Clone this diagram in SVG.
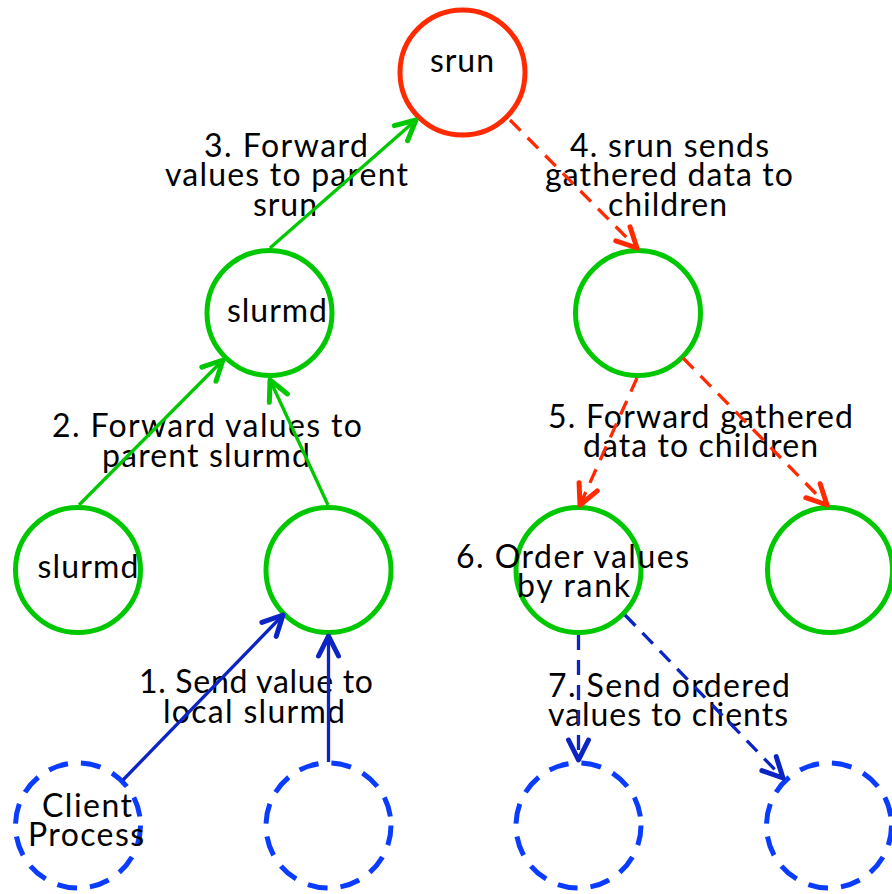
<svg xmlns="http://www.w3.org/2000/svg" width="892" height="894" viewBox="0 0 892 894">
  <style>
    text { font-family: Lato, "Open Sans", "Liberation Sans", sans-serif; font-size: 32px; fill: #000; text-anchor: middle; }
    .node-green { fill: none; stroke: #00c800; stroke-width: 5; }
    .node-red { fill: none; stroke: #ff2a00; stroke-width: 5; }
    .node-client { fill: none; stroke: #0a3cff; stroke-width: 5; stroke-dasharray: 20 13; }
    .edge { fill: none; stroke-width: 3.3; }
    .up { stroke: #00c800; marker-end: url(#head-green); }
    .down { stroke: #ff2a00; stroke-dasharray: 15 10; marker-end: url(#head-red); }
    .send { stroke: #0b24c4; marker-end: url(#head-blue); }
    .deliver { stroke: #0b24c4; stroke-dasharray: 15 10; marker-end: url(#head-blue); }
  </style>
  <defs>
    <marker id="head-green" markerUnits="userSpaceOnUse" viewBox="-24 -14 28 28" refX="0" refY="0" markerWidth="28" markerHeight="28" orient="auto">
      <path d="M -20,-10 L 0,0 L -20,10" fill="none" stroke="#00c800" stroke-width="5" stroke-linecap="round" stroke-linejoin="round"/>
    </marker>
    <marker id="head-red" markerUnits="userSpaceOnUse" viewBox="-24 -14 28 28" refX="0" refY="0" markerWidth="28" markerHeight="28" orient="auto">
      <path d="M -20,-10 L 0,0 L -20,10" fill="none" stroke="#ff2a00" stroke-width="5" stroke-linecap="round" stroke-linejoin="round"/>
    </marker>
    <marker id="head-blue" markerUnits="userSpaceOnUse" viewBox="-24 -14 28 28" refX="0" refY="0" markerWidth="28" markerHeight="28" orient="auto">
      <path d="M -20,-10 L 0,0 L -20,10" fill="none" stroke="#0b24c4" stroke-width="5" stroke-linecap="round" stroke-linejoin="round"/>
    </marker>
  </defs>

  <!-- root -->
  <g id="srun">
    <circle class="node-red" cx="462.5" cy="72.5" r="62.5"/>
    <text x="462" y="72" textLength="64">srun</text>
  </g>

  <!-- intermediate slurmd daemons -->
  <g id="slurmd-left">
    <circle class="node-green" cx="269.5" cy="313" r="62.5"/>
    <text x="277" y="322" textLength="100">slurmd</text>
  </g>
  <g id="slurmd-right">
    <circle class="node-green" cx="638" cy="313" r="62.5"/>
  </g>

  <!-- leaf slurmd daemons -->
  <g id="slurmd-leaf-1">
    <circle class="node-green" cx="78" cy="570" r="62.5"/>
    <text x="88" y="578" textLength="101">slurmd</text>
  </g>
  <g id="slurmd-leaf-2">
    <circle class="node-green" cx="328.5" cy="570" r="62.5"/>
  </g>
  <g id="slurmd-leaf-3">
    <circle class="node-green" cx="578.5" cy="570" r="62.5"/>
  </g>
  <g id="slurmd-leaf-4">
    <circle class="node-green" cx="830" cy="570" r="62.5"/>
  </g>

  <!-- client processes -->
  <g id="client-1">
    <circle class="node-client" cx="78" cy="825.5" r="62.5"/>
    <text x="87" y="817" textLength="90">Client</text>
    <text x="86" y="846" textLength="116">Process</text>
  </g>
  <g id="client-2">
    <circle class="node-client" cx="328.5" cy="825.5" r="62.5"/>
  </g>
  <g id="client-3">
    <circle class="node-client" cx="578.5" cy="825.5" r="62.5"/>
  </g>
  <g id="client-4">
    <circle class="node-client" cx="829" cy="825.5" r="62.5"/>
  </g>

  <!-- step labels -->
  <g id="labels">
    <text x="256" y="693" textLength="234">1. Send value to</text>
    <text x="254" y="723" textLength="182">local slurmd</text>

    <text x="207" y="437" textLength="310">2. Forward values to</text>
    <text x="206" y="467" textLength="208">parent slurmd</text>

    <text x="286" y="157" textLength="164">3. Forward</text>
    <text x="286.5" y="186" textLength="243">values to parent</text>
    <text x="285" y="216" textLength="64">srun</text>

    <text x="669.5" y="157" textLength="199">4. srun sends</text>
    <text x="669" y="186" textLength="248">gathered data to</text>
    <text x="667.5" y="216" textLength="119">children</text>

    <text x="700.5" y="428" textLength="305">5. Forward gathered</text>
    <text x="700.5" y="457" textLength="235">data to children</text>

    <text x="572.5" y="568" textLength="233">6. Order values</text>
    <text x="573.5" y="597" textLength="113">by rank</text>

    <text x="669" y="697" textLength="242">7. Send ordered</text>
    <text x="668" y="726" textLength="240">values to clients</text>
  </g>

  <!-- message flow -->
  <g id="connectors">
    <!-- gather: values travel up the tree -->
    <path class="edge send" d="M 123,780 L 283,615"/>
    <path class="edge send" d="M 328.5,762 L 328.5,636"/>
    <path class="edge up" d="M 79,505 L 223,360"/>
    <path class="edge up" d="M 328,505 L 270,380"/>
    <path class="edge up" d="M 270,248 L 416,120"/>
    <!-- scatter: gathered data travels back down -->
    <path class="edge down" d="M 510,120 L 637,248"/>
    <path class="edge down" d="M 637,378 L 580,505"/>
    <path class="edge down" d="M 683,358 L 827,505"/>
    <path class="edge deliver" d="M 578.5,635 L 578.5,760"/>
    <path class="edge deliver" d="M 625,615 L 783,778"/>
  </g>
</svg>
